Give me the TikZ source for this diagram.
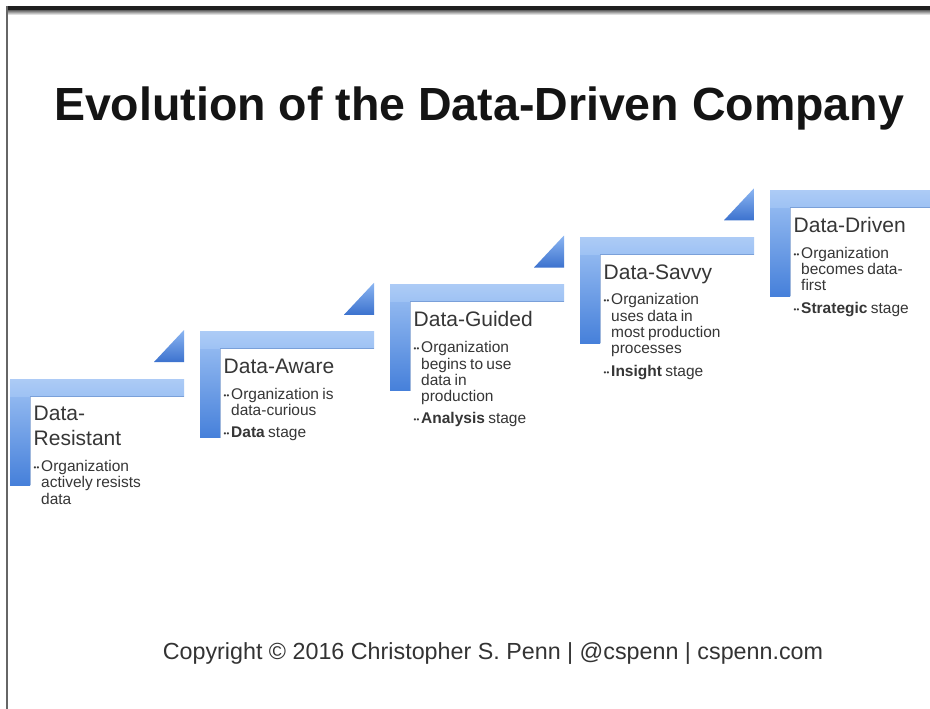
\documentclass[tikz,border=0pt]{standalone}
\usepackage{fontspec}
\setmainfont{Liberation Sans}
\usetikzlibrary{positioning}

\definecolor{barlight}{HTML}{9EC2F4}
\definecolor{bardark}{HTML}{4680DA}
\definecolor{tiplight}{HTML}{8CB6F2}
\definecolor{tipdark}{HTML}{3C72CE}
\definecolor{inktext}{HTML}{363636}

% text blocks of one stage
\newcommand{\stagehead}[1]{{\fontsize{21}{25}\selectfont #1\par}\vskip 9.5pt}
\newcommand{\stageitem}[1]{{\fontsize{15.5}{16.3}\selectfont\hangindent=7.5pt\hangafter=1\relax
  \makebox[7.5pt][l]{\raisebox{1pt}{\fontsize{8}{8}\selectfont ••}}#1\par}\vskip 6pt}

\begin{document}
\begin{tikzpicture}[x=1pt,y=-1pt,
  stagetext/.style={anchor=north west,inner sep=0pt,text width=136pt,text=inktext,
    execute at begin node={\parindent=0pt\parskip=0pt}},
  barshadow/.style={draw=bardark!70!gray,line width=0.6pt,opacity=0.5}]
\clip (0,0) rectangle (930,709);
\fill[white] (0,0) rectangle (930,709);
% slide frame
\fill[black!88] (6,6) rectangle (930,11);
\shade[top color=black!50,bottom color=white] (6,11) rectangle (930,15);
\fill[black!60] (5.5,6) rectangle (7.5,709);

\node[font=\fontsize{46.5}{50}\selectfont\bfseries,text=black!92,anchor=base] (title) at (479,121)
  {Evolution of the Data-Driven Company};

% the steps
\foreach \X [count=\Y, evaluate=\X as \bx using 10+190*\X, evaluate=\X as \by using 379-47.25*\X] in {0,...,4} {
  \coordinate (bar\Y) at (\bx,\by);
  \shade[top color=barlight,bottom color=bardark] (\bx,\by) rectangle (\bx+20,\by+106);
  \shade[top color=barlight!85!white,bottom color=barlight] (\bx,\by) rectangle (\bx+174,\by+17);
  \draw[barshadow] (\bx+20,\by+106) -- (\bx+20,\by+17) -- (\bx+174,\by+17);
}
% small tips up to the next step
\foreach \X [evaluate=\X as \rx using 184+190*\X, evaluate=\X as \by using 379-47.25*\X] in {0,...,3}
  \shade[top color=tiplight,bottom color=tipdark] (\rx-30,\by-17) -- (\rx,\by-17) -- (\rx,\by-49) -- cycle;

\node[stagetext,below right=27pt and 23.5pt of bar1] (s1) {\stagehead{Data-\newline Resistant}
  \stageitem{Organization\newline actively resists\newline data}};
\node[stagetext,below right=27pt and 23.5pt of bar2] (s2) {\stagehead{Data-Aware}
  \stageitem{Organization is\newline data-curious}
  \stageitem{\textbf{Data} stage}};
\node[stagetext,below right=27pt and 23.5pt of bar3] (s3) {\stagehead{Data-Guided}
  \stageitem{Organization\newline begins to use\newline data in\newline production}
  \stageitem{\textbf{Analysis} stage}};
\node[stagetext,below right=27pt and 23.5pt of bar4] (s4) {\stagehead{Data-Savvy}
  \stageitem{Organization\newline uses data in\newline most production\newline processes}
  \stageitem{\textbf{Insight} stage}};
\node[stagetext,below right=27pt and 23.5pt of bar5] (s5) {\stagehead{Data-Driven}
  \stageitem{Organization\newline becomes data-\newline first}
  \stageitem{\textbf{Strategic} stage}};

\node[font=\fontsize{23.3}{26}\selectfont,text=black!80,anchor=base] (copy) at (493,659)
  {Copyright © 2016 Christopher S. Penn | @cspenn | cspenn.com};
\end{tikzpicture}
\end{document}
